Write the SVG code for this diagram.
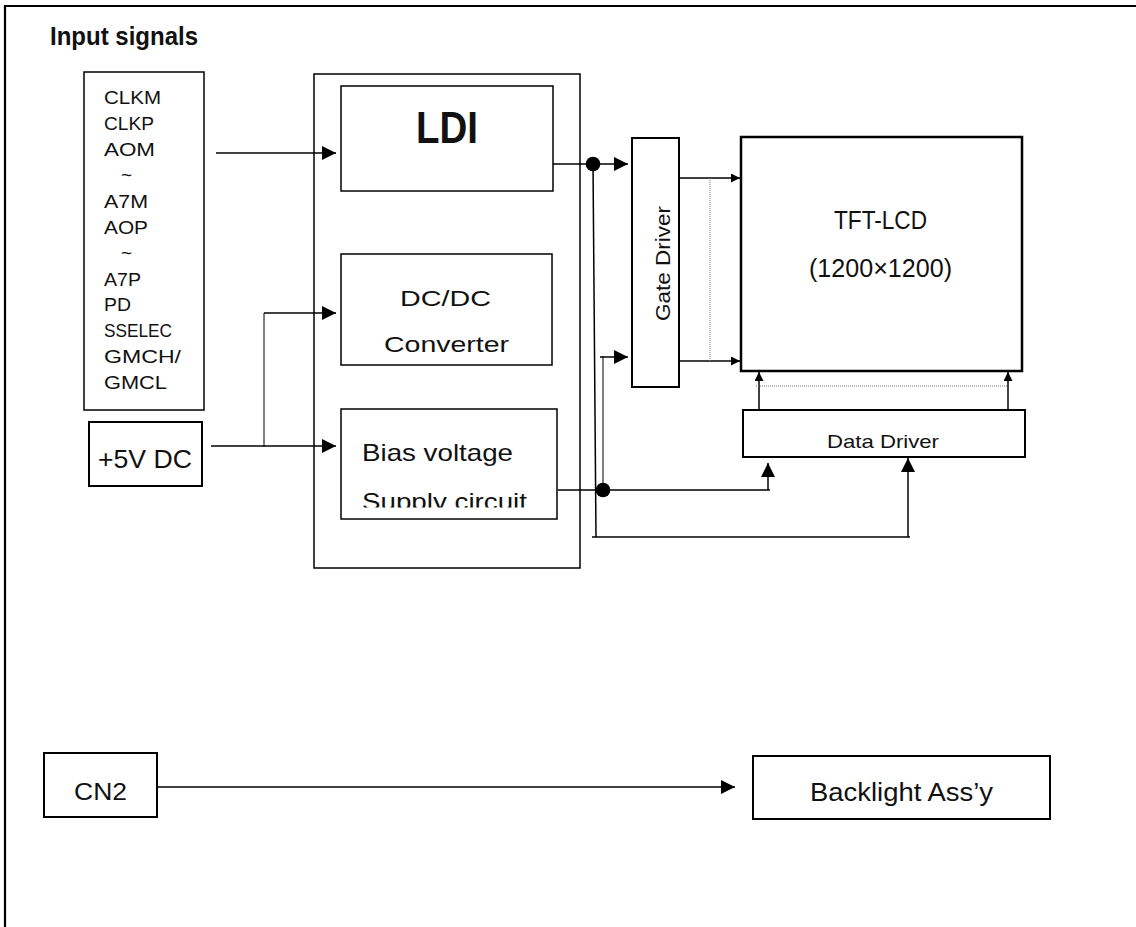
<svg xmlns="http://www.w3.org/2000/svg" width="1136" height="927" viewBox="0 0 1136 927">
  <style>
    .box { fill: #fff; stroke: #000; }
    .t { font-family: "Liberation Sans", Arial, sans-serif; fill: #111; }
    .ln { fill: none; stroke: #000; stroke-width: 1.5; }
    .thin { fill: none; stroke: #000; stroke-width: 1; }
    .dot { fill: #000; }
    .dotted { fill: none; stroke: #777; stroke-width: 1; stroke-dasharray: 1 1; }
  </style>
  <defs>
    <marker id="arr" viewBox="0 0 14 14" markerWidth="14" markerHeight="14" refX="14" refY="7" orient="auto" markerUnits="userSpaceOnUse">
      <path d="M0,0 L14,7 L0,14 z" fill="#000"/>
    </marker>
    <marker id="arrs" viewBox="0 0 9 9" markerWidth="9" markerHeight="9" refX="9" refY="4.5" orient="auto" markerUnits="userSpaceOnUse">
      <path d="M0,0 L9,4.5 L0,9 z" fill="#000"/>
    </marker>
    <clipPath id="biasClip">
      <rect x="341" y="409" width="216" height="98.5"/>
    </clipPath>
  </defs>

  <rect width="1136" height="927" fill="#fff"/>

  <!-- page frame (left and top edges only) -->
  <path d="M5,927 V6 H1136" fill="none" stroke="#000" stroke-width="2.2"/>

  <text class="t" x="50" y="45" font-size="25" font-weight="bold" textLength="148" lengthAdjust="spacingAndGlyphs">Input signals</text>

  <!-- input signal list -->
  <g id="signals">
    <rect class="box" x="84" y="72" width="120" height="338" stroke-width="1.5"/>
    <g class="t" font-size="19">
      <text x="104" y="104" textLength="57" lengthAdjust="spacingAndGlyphs">CLKM</text>
      <text x="104" y="130" textLength="50" lengthAdjust="spacingAndGlyphs">CLKP</text>
      <text x="104" y="156" textLength="51" lengthAdjust="spacingAndGlyphs">AOM</text>
      <text x="121" y="181">~</text>
      <text x="104" y="208" textLength="44" lengthAdjust="spacingAndGlyphs">A7M</text>
      <text x="104" y="234" textLength="44" lengthAdjust="spacingAndGlyphs">AOP</text>
      <text x="121" y="259">~</text>
      <text x="104" y="286" textLength="37" lengthAdjust="spacingAndGlyphs">A7P</text>
      <text x="104" y="311" textLength="27" lengthAdjust="spacingAndGlyphs">PD</text>
      <text x="104" y="337" textLength="68" lengthAdjust="spacingAndGlyphs">SSELEC</text>
      <text x="104" y="363" textLength="77" lengthAdjust="spacingAndGlyphs">GMCH/</text>
      <text x="104" y="389" textLength="63" lengthAdjust="spacingAndGlyphs">GMCL</text>
    </g>
  </g>

  <g id="power-in">
    <rect class="box" x="89" y="422" width="113" height="64" stroke-width="2"/>
    <text class="t" x="98" y="468" font-size="25" textLength="94" lengthAdjust="spacingAndGlyphs">+5V DC</text>
  </g>

  <!-- controller board -->
  <g id="board">
    <rect class="box" x="314" y="74" width="266" height="494" stroke-width="1.5"/>
  </g>

  <g id="ldi">
    <rect class="box" x="341" y="86" width="212" height="105" stroke-width="1.5"/>
    <text class="t" x="416" y="143" font-size="45" font-weight="bold" textLength="62" lengthAdjust="spacingAndGlyphs">LDI</text>
  </g>

  <g id="dcdc">
    <rect class="box" x="341" y="254" width="211" height="111" stroke-width="1.5"/>
    <text class="t" x="400" y="306" font-size="22" textLength="91" lengthAdjust="spacingAndGlyphs">DC/DC</text>
    <text class="t" x="384" y="352" font-size="22" textLength="125" lengthAdjust="spacingAndGlyphs">Converter</text>
  </g>

  <g id="bias">
    <rect class="box" x="341" y="409" width="216" height="110" stroke-width="1.5"/>
    <g clip-path="url(#biasClip)">
      <text class="t" x="362" y="461" font-size="24" textLength="151" lengthAdjust="spacingAndGlyphs">Bias voltage</text>
      <text class="t" x="362" y="509.5" font-size="24" textLength="165" lengthAdjust="spacingAndGlyphs">Supply circuit</text>
    </g>
  </g>

  <g id="gate-driver">
    <rect class="box" x="632" y="138" width="47" height="249" stroke-width="2"/>
    <text class="t" transform="translate(670,263.5) rotate(-90)" x="0" y="0" font-size="20" text-anchor="middle" textLength="115" lengthAdjust="spacingAndGlyphs">Gate Driver</text>
  </g>

  <g id="tft-lcd">
    <rect class="box" x="741" y="137" width="281" height="234" stroke-width="2.5"/>
    <text class="t" x="834" y="229" font-size="25" textLength="93" lengthAdjust="spacingAndGlyphs">TFT-LCD</text>
    <text class="t" x="809" y="277" font-size="25" textLength="143" lengthAdjust="spacingAndGlyphs">(1200×1200)</text>
  </g>

  <g id="data-driver">
    <rect class="box" x="743" y="410" width="282" height="47" stroke-width="2"/>
    <text class="t" x="827" y="448" font-size="19" textLength="112" lengthAdjust="spacingAndGlyphs">Data Driver</text>
  </g>

  <g id="cn2">
    <rect class="box" x="44" y="753" width="113" height="64" stroke-width="2"/>
    <text class="t" x="74" y="800" font-size="24" textLength="53" lengthAdjust="spacingAndGlyphs">CN2</text>
  </g>

  <g id="backlight">
    <rect class="box" x="753" y="756" width="297" height="63" stroke-width="2"/>
    <text class="t" x="810" y="801" font-size="25" textLength="183" lengthAdjust="spacingAndGlyphs">Backlight Ass’y</text>
  </g>

  <!-- connectors, drawn over the boxes -->
  <g id="connectors">
    <path class="ln" d="M216,153 H336" marker-end="url(#arr)"/>
    <path class="ln" d="M211,446 H336" marker-end="url(#arr)"/>
    <path class="thin" d="M264,447 V313"/>
    <path class="ln" d="M264,313 H336" marker-end="url(#arr)"/>

    <path class="ln" d="M553,164 H628" marker-end="url(#arr)"/>
    <path class="ln" d="M593,164 L596,537"/>
    <path class="ln" d="M592,537 H910"/>
    <path class="ln" d="M908,537 V458" marker-end="url(#arr)"/>

    <path class="ln" d="M558,490 H770"/>
    <path class="ln" d="M768,490 V463" marker-end="url(#arr)"/>
    <path class="thin" d="M603,490 V356"/>
    <path class="ln" d="M600,357 H628" marker-end="url(#arr)"/>

    <path class="ln" d="M679,178 H740" marker-end="url(#arrs)"/>
    <path class="ln" d="M679,361 H740" marker-end="url(#arrs)"/>
    <path class="dotted" d="M710,178 V361"/>

    <path class="ln" d="M759,410 V372" marker-end="url(#arrs)"/>
    <path class="ln" d="M1008,410 V372" marker-end="url(#arrs)"/>
    <path class="dotted" d="M756,386 H1007"/>

    <path class="ln" d="M157,787 H735" marker-end="url(#arr)"/>

    <circle class="dot" cx="593" cy="164" r="7.3"/>
    <circle class="dot" cx="603" cy="490" r="7.3"/>
  </g>
</svg>
